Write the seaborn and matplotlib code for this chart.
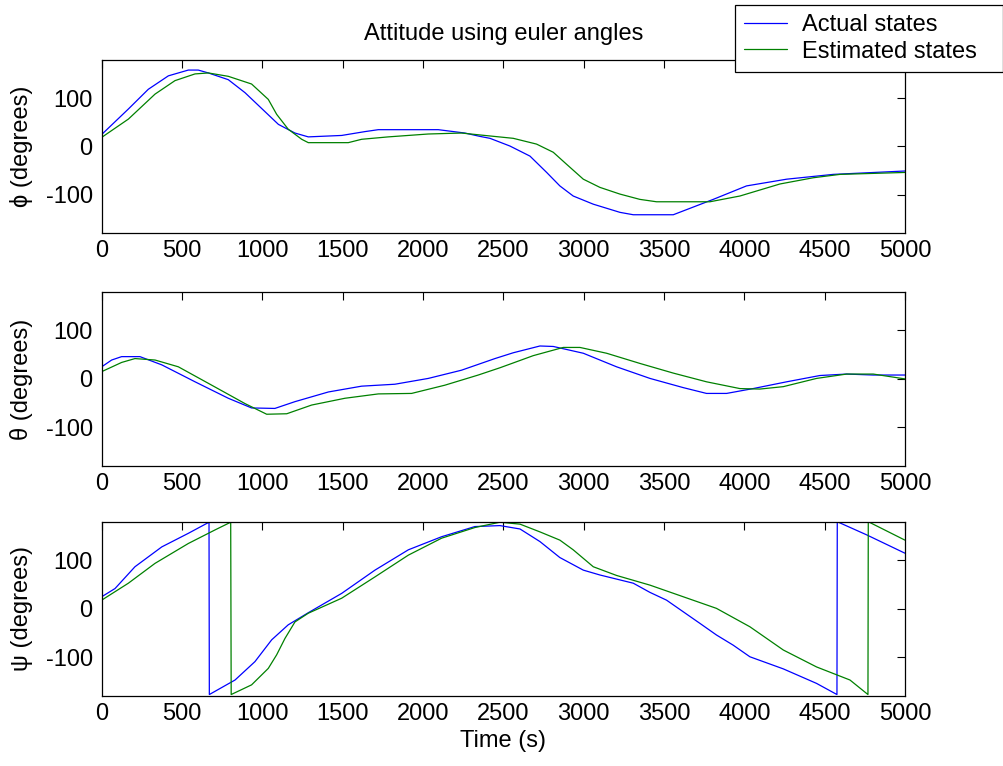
import numpy as np
import pandas as pd
import matplotlib
matplotlib.use("Agg")
import matplotlib.pyplot as plt
import seaborn as sns

# ---------------- data ----------------
phi_act_t = [0, 166, 290, 415, 539, 601, 664, 788, 892, 996, 1100, 1203, 1286, 1494, 1639, 1722,
             2095, 2261, 2355, 2417, 2541, 2666, 2770, 2852, 2935, 3060, 3226, 3309, 3558, 3807,
             4014, 4264, 4554, 5000]
phi_act_v = [25, 78, 119, 147, 159, 159, 153, 139, 112, 79, 46, 28, 20, 23, 31, 35,
             35, 28, 21, 17, 1, -20, -54, -82, -103, -120, -137, -142, -142, -110,
             -82, -68, -58, -51]
phi_est_t = [0, 166, 332, 456, 581, 664, 788, 933, 1037, 1089, 1161, 1245, 1286, 1535, 1618, 1784,
             2033, 2240, 2355, 2562, 2707, 2811, 2894, 2998, 3101, 3226, 3350, 3454, 3786, 3973,
             4222, 4430, 4596, 5000]
phi_est_v = [19, 57, 109, 137, 151, 153, 146, 130, 98, 67, 36, 15, 8, 8, 15, 20,
             26, 28, 24, 17, 5, -12, -37, -68, -85, -99, -110, -115, -115, -103,
             -78, -65, -58, -54]

theta_act_t = [0, 62, 124, 238, 374, 581, 788, 933, 1078, 1203, 1411, 1618, 1825, 2033, 2240, 2448,
               2562, 2728, 2811, 2998, 3205, 3413, 3620, 3765, 3890, 4055, 4264, 4471, 4637, 4803, 5000]
theta_act_v = [25, 39, 46, 46, 29, -6, -40, -60, -61, -47, -27, -15, -11, 1, 18, 42,
               54, 68, 67, 53, 25, 1, -18, -30, -30, -20, -6, 7, 10, 8, 8]
theta_est_t = [0, 124, 207, 332, 477, 685, 892, 1027, 1152, 1307, 1514, 1722, 1929, 2136, 2344, 2479,
               2562, 2686, 2873, 2977, 3143, 3350, 3558, 3765, 3973, 4097, 4243, 4450, 4637, 4803, 5000]
theta_est_v = [15, 34, 42, 39, 25, -13, -51, -73, -72, -54, -40, -31, -30, -13, 8, 23,
               33, 48, 65, 65, 53, 32, 12, -6, -20, -21, -16, 1, 10, 10, 0]

psi_act_t = [0, 83, 207, 374, 539, 668, 670, 830, 954, 1058, 1161, 1286, 1494, 1701, 1909, 2116,
             2323, 2479, 2604, 2728, 2852, 2998, 3101, 3309, 3413, 3516, 3620, 3724, 3827, 3931,
             4035, 4243, 4450, 4577, 4579, 4761, 5000]
psi_act_v = [25, 42, 87, 128, 156, 179, -177, -147, -109, -64, -33, -8, 32, 80, 122, 149,
             170, 172, 165, 139, 106, 80, 70, 53, 34, 18, -6, -30, -54, -75,
             -99, -124, -154, -177, 180, 153, 115]
psi_est_t = [0, 166, 332, 539, 705, 803, 806, 933, 1037, 1089, 1141, 1203, 1286, 1494, 1701, 1909,
             2116, 2323, 2479, 2604, 2728, 2852, 2935, 3060, 3205, 3413, 3620, 3827, 4035, 4243,
             4450, 4658, 4770, 4772, 5000]
psi_est_v = [18, 53, 94, 135, 163, 179, -177, -157, -123, -95, -61, -27, -9, 22, 66, 111,
             146, 168, 179, 175, 159, 142, 122, 87, 69, 49, 25, 1, -37, -85,
             -120, -147, -177, 180, 142]

series_labels = ["Actual states", "Estimated states"]
ylabels = ["\u03d5 (degrees)", "\u03b8 (degrees)", "\u03c8 (degrees)"]
xticks = list(range(0, 5001, 500))
yticks = [-100, 0, 100]
title = "Attitude using euler angles"
xlabel = "Time (s)"

# ---------------- style ----------------
sns.set_style("white")
FS = 17
plt.rcParams["font.family"] = ["Liberation Sans", "DejaVu Sans"]
plt.rcParams["font.size"] = FS
plt.rcParams["axes.linewidth"] = 0.9
plt.rcParams["axes.edgecolor"] = "black"
plt.rcParams["axes.unicode_minus"] = False
plt.rcParams["text.color"] = "black"
plt.rcParams["axes.labelcolor"] = "black"
plt.rcParams["xtick.color"] = "black"
plt.rcParams["ytick.color"] = "black"

colors = ["#0000ff", "#008000"]

fig = plt.figure(figsize=(10.04, 7.66), dpi=100)
L, W = 0.1013, 0.800
boxes = [(L, 0.6958, W, 0.2259), (L, 0.3916, W, 0.2275), (L, 0.0914, W, 0.2275)]
data = [
    ((phi_act_t, phi_act_v), (phi_est_t, phi_est_v)),
    ((theta_act_t, theta_act_v), (theta_est_t, theta_est_v)),
    ((psi_act_t, psi_act_v), (psi_est_t, psi_est_v)),
]

axes = []
for i, (box, pair) in enumerate(zip(boxes, data)):
    ax = fig.add_axes(box)
    axes.append(ax)
    for (t, v), c, lab in zip(pair, colors, series_labels):
        df = pd.DataFrame({"t": t, "v": v})
        sns.lineplot(data=df, x="t", y="v", ax=ax, color=c, lw=0.9,
                     estimator=None, sort=False, legend=False)
    ax.set_xlim(0, 5000)
    ax.set_ylim(-180, 180)
    ax.set_xticks(xticks)
    ax.set_yticks(yticks)
    ax.tick_params(direction="in", length=6, width=0.8, top=True, right=True,
                   labelsize=FS, colors="black")
    ax.tick_params(axis="x", pad=5)
    ax.tick_params(axis="y", pad=6.5)
    ax.set_xlabel("")
    ax.set_ylabel(ylabels[i], fontsize=FS, color="black")
    ax.yaxis.set_label_coords(-0.086, 0.5)
    for s in ax.spines.values():
        s.set_visible(True)
        s.set_color("black")

axes[0].set_title(title, fontsize=FS, pad=14.4, color="black")
axes[2].set_xlabel(xlabel, fontsize=FS, labelpad=4, color="black")

handles = axes[0].get_lines()[:2]
leg = fig.legend(handles, series_labels, loc="upper left",
                 bbox_to_anchor=(0.732, 0.905, 0.267, 0.089), mode="expand",
                 fontsize=FS, frameon=True, fancybox=False, framealpha=1,
                 edgecolor="black", handlelength=1.8, handletextpad=0.65,
                 borderpad=0.4, labelspacing=0.2, borderaxespad=0)
leg.get_frame().set_linewidth(0.9)
for txt in leg.get_texts():
    txt.set_color("black")

fig.savefig("out.png", dpi=100)
